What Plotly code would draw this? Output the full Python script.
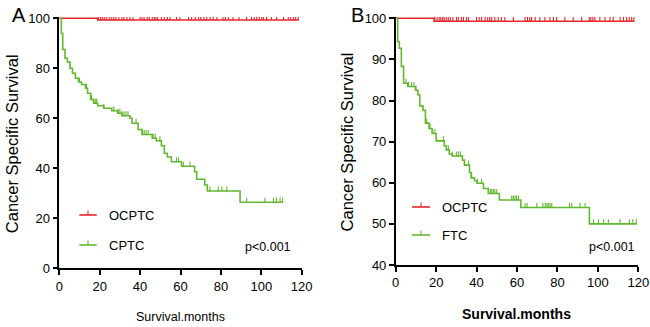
import numpy as np
import plotly.graph_objects as go

# ---------------- data ----------------
x_ticks = [0, 20, 40, 60, 80, 100, 120]
y_ticks_A = [0, 20, 40, 60, 80, 100]
y_ticks_B = [40, 50, 60, 70, 80, 90, 100]

# Panel A
ocptc_A_t = [0, 19, 118.3]
ocptc_A_s = [100, 99.3, 99.3]
ocptc_A_cens = [19.5, 20.5, 21.5, 22.5, 23.5, 25, 26, 27, 28, 29.5, 31, 32, 33.5, 35, 36.5,
                40, 41, 42, 43.5, 44.5, 46, 47, 47.8, 48.7, 50.5, 52, 53.5, 54.8, 58, 59.7,
                64, 65.5, 67.3, 69, 70, 71.6, 73, 74.6, 76.2, 78, 81, 82.2, 83.7, 86, 89,
                92.7, 95.2, 96.5, 97.7, 99, 100.2, 101, 102.6, 105, 107.6, 111, 113.4,
                114.6, 116, 117, 118.3]
cptc_t = [0, 1, 1.7, 2.8, 4, 5.3, 6.5, 8, 9.5, 11, 13, 14, 15.5, 17, 19, 22, 26, 29, 31,
          35, 36, 39, 41, 46, 48, 50.5, 52, 53.5, 55.5, 60.5, 67, 68, 72, 73.3, 89.5, 110.9]
cptc_s = [100, 94, 87.5, 84, 82.5, 80, 78, 76, 74.5, 73.5, 72, 70, 67.5, 66, 65, 64, 63,
          62, 61, 60, 58, 55.5, 53.5, 52, 51, 49, 46, 44.5, 42.6, 40.8, 38.6, 35.6, 33.3,
          30.9, 26.4, 26.4]
cptc_cens = [8, 10, 13.5, 16, 17, 18, 18.5, 22, 27, 29, 30, 31, 32, 33, 34, 38, 41, 42, 43,
             44, 46.5, 47.5, 49.8, 58, 59, 61.4, 64.7, 74.6, 78.7, 80.5, 82.9, 92.8, 101.8,
             106, 107.5, 109.3, 110.5]

# Panel B
ocptc_B_t = [0, 19, 118]
ocptc_B_s = [100, 99.3, 99.3]
ocptc_B_cens = [19.4, 20.5, 21.5, 22.3, 23.2, 24, 25, 26, 27, 28.3, 30.1, 31, 32.5, 33.5, 35,
                36, 40, 41.3, 42.5, 44.2, 45.5, 46.5, 47.5, 49, 50.7, 52.3, 54, 58.2, 64,
                65.2, 66.3, 67.2, 69, 71.3, 73.8, 76.3, 78, 79.6, 83.7, 87.8, 92, 95.7, 96.5,
                97.5, 98.5, 101, 103.5, 106, 107.6, 111, 112.7, 114.2, 115.5, 116.7, 117.8]
ftc_t = [0, 1, 1.8, 2.8, 3.9, 6, 9.8, 11, 11.9, 13.5, 14.7, 16.5, 18, 20, 24, 25, 26.5, 28,
         33, 34, 36.5, 37.3, 39, 40.2, 43.4, 45.8, 51.3, 61.9, 95.8, 119.2]
ftc_s = [100, 94.3, 92.7, 88.3, 84.2, 83.4, 82.5, 81.4, 78.7, 77.6, 74.5, 73.2, 72, 70.2, 69,
         68, 67, 66.5, 65.5, 64.3, 62.5, 61.2, 60.5, 59.9, 58.6, 57.4, 55.8, 54, 50, 50]
ftc_cens = [5.1, 6.3, 7.9, 9, 10, 15.3, 17, 18.3, 19.4, 23.6, 26, 28, 30, 31, 32, 36, 37.6,
            40.4, 42.5, 46.8, 47.5, 48.3, 49, 50, 57.4, 58.2, 59, 59.8, 60.7, 64, 65, 69.8,
            72.8, 74, 74.8, 75.6, 76.4, 77.2, 86, 87.1, 91.2, 93.7, 97.8, 100.3, 102.8,
            105.2, 111, 115.6, 117.3, 119]

RED = "#e8262a"
GREEN = "#62b82f"
FONT = "Liberation Sans, Arial, sans-serif"


def step_at(t, s, x):
    idx = np.searchsorted(np.asarray(t), np.asarray(x), side="right") - 1
    return np.asarray(s)[idx]


fig = go.Figure()


def add_curve(t, s, cens, color, xa, ya, tick_h):
    fig.add_trace(go.Scatter(x=t, y=s, mode="lines", line=dict(shape="hv", color=color, width=1.6),
                             xaxis=xa, yaxis=ya, showlegend=False, hoverinfo="skip"))
    cy = step_at(t, s, cens)
    fig.add_trace(go.Scatter(x=cens, y=cy, mode="markers", marker=dict(size=1, color=color),
                             error_y=dict(type="constant", value=tick_h, valueminus=0, symmetric=False,
                                          width=0, thickness=1.1, color=color),
                             xaxis=xa, yaxis=ya, showlegend=False, hoverinfo="skip"))


add_curve(ocptc_A_t, ocptc_A_s, ocptc_A_cens, RED, "x", "y", 1.8)
add_curve(cptc_t, cptc_s, cptc_cens, GREEN, "x", "y", 1.8)
add_curve(ocptc_B_t, ocptc_B_s, ocptc_B_cens, RED, "x2", "y2", 1.1)
add_curve(ftc_t, ftc_s, ftc_cens, GREEN, "x2", "y2", 1.1)

W, H = 650, 327


def px(xp):
    return xp / W


def py(yp):
    return (H - yp) / H


axis_common = dict(showgrid=False, zeroline=False, showline=True, linecolor="black", linewidth=1.5,
                   ticks="outside", ticklen=5, tickwidth=1.5, tickcolor="black", automargin=False,
                   ticklabeloverflow="allow",
                   tickfont=dict(family=FONT, size=13, color="black"))

fig.update_layout(
    width=W, height=H, margin=dict(l=0, r=0, t=0, b=0, autoexpand=False),
    paper_bgcolor="white", plot_bgcolor="white",
    xaxis=dict(domain=[px(59.3), px(301.7)], range=[0, 120], tickvals=x_ticks, anchor="y", **axis_common),
    yaxis=dict(domain=[py(268.3), py(17.05)], range=[0, 100.5], tickvals=y_ticks_A, anchor="x", **axis_common),
    xaxis2=dict(domain=[px(395.7), px(638.3)], range=[0, 120], tickvals=x_ticks, anchor="y2", **axis_common),
    yaxis2=dict(domain=[py(265), py(16.66)], range=[40, 100.4], tickvals=y_ticks_B, anchor="x2", **axis_common),
    showlegend=False,
)

ann = []
shapes = []


def text(x, y, s, size, angle=0, xanchor="center", bold=False):
    ann.append(dict(x=px(x), y=py(y), xref="paper", yref="paper", text=f"<b>{s}</b>" if bold else s,
                    showarrow=False, textangle=angle, xanchor=xanchor, yanchor="middle",
                    font=dict(family=FONT, size=size, color="black")))


# axis titles
text(11.7, 143.5, "Cancer Specific Survival", 16.5, angle=-90)
text(346.7, 141.7, "Cancer Specific Survival", 16.5, angle=-90)
text(180, 317, "Survival.months", 12.5)
text(516.7, 314, "Survival.months", 14, bold=True)
# panel letters
text(18.5, 15, "A", 20)
text(357.5, 15, "B", 20)
# p values
text(243, 247, "p&lt;0.001", 12.5, xanchor="left")
text(587, 247, "p&lt;0.001", 12.5, xanchor="left")


def legend_item(x0, x1, y, color, label):
    shapes.append(dict(type="line", xref="paper", yref="paper", x0=px(x0), x1=px(x1), y0=py(y), y1=py(y),
                       line=dict(color=color, width=1.6)))
    xm = (x0 + x1) / 2
    shapes.append(dict(type="line", xref="paper", yref="paper", x0=px(xm), x1=px(xm), y0=py(y), y1=py(y - 4.5),
                       line=dict(color=color, width=1.1)))
    text(x1 + 10, y, label, 13, xanchor="left")


legend_item(79.3, 96.7, 215, RED, "OCPTC")
legend_item(79.3, 96.7, 245, GREEN, "CPTC")
legend_item(412, 430, 207, RED, "OCPTC")
legend_item(412, 430, 235, GREEN, "FTC")

fig.update_layout(annotations=ann, shapes=shapes)
fig.write_html("out.html", config={"displayModeBar": False},
               post_script="document.body.style.margin='0';")
